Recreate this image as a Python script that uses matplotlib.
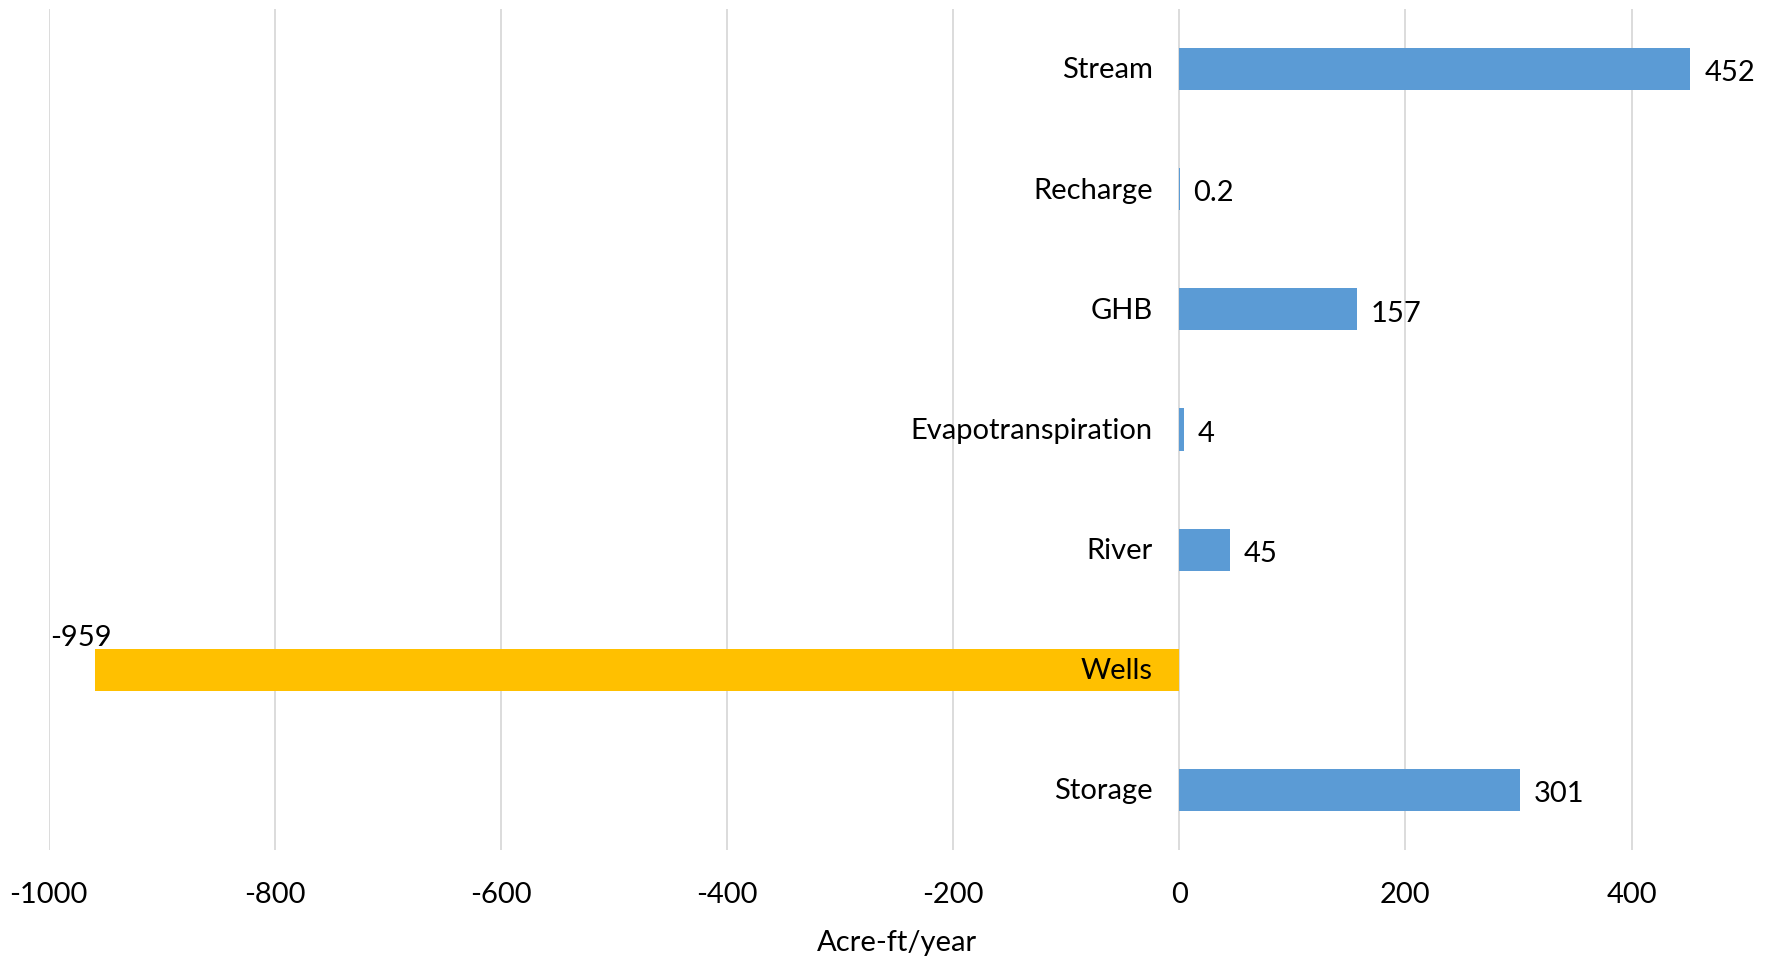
#!/usr/bin/env python3
import matplotlib
matplotlib.use("Agg")
import matplotlib.pyplot as plt
import numpy as np

# Datos (de arriba hacia abajo)
categorias = ['Stream', 'Recharge', 'GHB', 'Evapotranspiration', 'River', 'Wells', 'Storage']
valores = [452, 0.2, 157, 4, 45, -959, 301]
etiquetas = ['452', '0.2', '157', '4', '45', '-959', '301']
ticks_x = [-1000, -800, -600, -400, -200, 0, 200, 400]

plt.rcParams['font.family'] = ['Lato', 'DejaVu Sans']
fs = 21

fig = plt.figure(figsize=(17.73, 9.59), dpi=100)
ax = fig.add_axes([0.0274, 0.1137, 0.984 - 0.0274, 0.9906 - 0.1137])

y = np.arange(len(categorias))
colores = ['#FFC000' if v < 0 else '#5B9BD5' for v in valores]
ax.barh(y, valores, height=0.35, color=colores, linewidth=0, zorder=2)

ax.set_xlim(-1000, 500)
ax.set_ylim(len(categorias) - 0.5, -0.5)
ax.set_xticks(ticks_x)
ax.set_xticklabels([str(t) for t in ticks_x])
ax.set_yticks([])
ax.grid(axis='x', color='#D9D9D9', linewidth=1.3, zorder=0)
ax.set_axisbelow(True)
for s in ax.spines.values():
    s.set_visible(False)
ax.tick_params(axis='x', length=0, pad=23, labelsize=fs)
ax.set_xlabel('Acre-ft/year', fontsize=fs, labelpad=16)

# Etiquetas de categoria junto al eje
for yi, cat in zip(y, categorias):
    ax.annotate(cat, xy=(0, yi), xytext=(-19, -1), textcoords='offset points',
                ha='right', va='center', fontsize=fs, zorder=3)

# Etiquetas de valor
for yi, v, lab in zip(y, valores, etiquetas):
    if v >= 0:
        ax.annotate(lab, xy=(v, yi), xytext=(10, -3), textcoords='offset points',
                    ha='left', va='center', fontsize=fs)
    else:
        ax.annotate(lab, xy=(v, yi), xytext=(12, 23), textcoords='offset points',
                    ha='right', va='center', fontsize=fs)

fig.savefig('out.png', dpi=100)
